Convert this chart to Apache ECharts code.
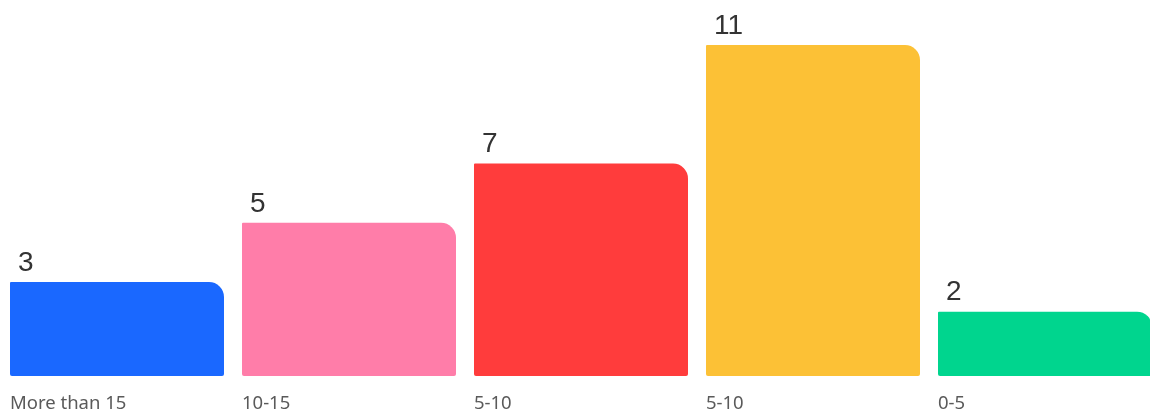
<!DOCTYPE html>
<html>
<head>
<meta charset="utf-8">
<script src="https://cdn.jsdelivr.net/npm/echarts@6/dist/echarts.min.js"></script>
<style>
  html, body { margin: 0; padding: 0; background: #fff; }
  #chart { width: 1150px; height: 414px; }
</style>
</head>
<body>
<div id="chart"></div>
<script>
var categories = ["More than 15", "10-15", "5-10", "5-10", "0-5"];
var values = [3, 5, 7, 11, 2];
var colors = ["#1A68FF", "#FF7DA9", "#FF3C3C", "#FCC136", "#00D58E"];

var data = values.map(function (v, i) {
  return { value: v, itemStyle: { color: colors[i] } };
});

var chart = echarts.init(document.getElementById("chart"));
chart.setOption({
  animation: false,
  grid: {
    left: 1,
    top: 45,
    width: 1160,
    bottom: 38,
    containLabel: false,
    outerBoundsMode: "none"
  },
  xAxis: {
    type: "category",
    data: categories,
    axisLine: { show: false },
    axisTick: { show: false },
    axisLabel: {
      interval: 0,
      align: "left",
      margin: 18,
      padding: [0, 0, 0, -107],
      color: "#5a5a5a",
      fontSize: 18.5,
      fontFamily: "Noto Sans"
    }
  },
  yAxis: {
    type: "value",
    min: -0.17,
    max: 11,
    startValue: -0.17,
    show: false,
    splitLine: { show: false }
  },
  series: [
    {
      type: "bar",
      barWidth: 214,
      data: data,
      itemStyle: { borderRadius: [1, 15, 2, 2] },
      label: {
        show: true,
        position: [8, -5],
        align: "left",
        verticalAlign: "bottom",
        color: "#333",
        fontSize: 28,
        fontFamily: "Liberation Sans"
      }
    }
  ]
});
</script>
</body>
</html>
